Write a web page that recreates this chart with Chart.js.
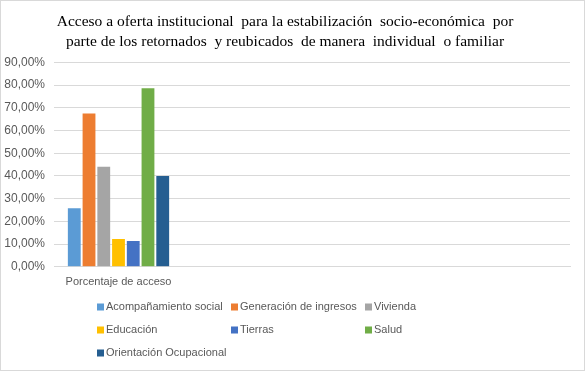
<!DOCTYPE html>
<html>
<head>
<meta charset="utf-8">
<script src="https://cdn.jsdelivr.net/npm/chart.js@4/dist/chart.umd.min.js"></script>
<style>
html,body{margin:0;padding:0;background:#fff;}
#wrap{width:585px;height:371px;position:relative;}
</style>
</head>
<body>
<div id="wrap"><canvas id="c"></canvas></div>
<script>
const categories = ["Porcentaje de acceso", "", "", ""];
const seriesNames = ["Acompañamiento social", "Generación de ingresos", "Vivienda", "Educación", "Tierras", "Salud", "Orientación Ocupacional"];
const seriesValues = [25.8, 67.5, 44.0, 12.2, 11.3, 78.6, 40.0];
const seriesColors = ["#5B9BD5", "#ED7D31", "#A5A5A5", "#FFC000", "#4472C4", "#70AD47", "#255E91"];
const titleLines = ["Acceso a oferta institucional  para la estabilización  socio-económica  por", "parte de los retornados  y reubicados  de manera  individual  o familiar"];
const yTicks = {min: 0, max: 90, step: 10};

const datasets = seriesNames.map((n, i) => ({
  label: n,
  data: categories.map((c, j) => j === 0 ? seriesValues[i] : null),
  backgroundColor: seriesColors[i],
  categoryPercentage: 0.8,
  barPercentage: 0.87
}));

const gridLegend = {
  id: 'gridLegend',
  beforeDraw(chart) {
    const ctx = chart.ctx;
    ctx.save();
    ctx.fillStyle = '#fff';
    ctx.fillRect(0, 0, chart.width, chart.height);
    ctx.strokeStyle = '#d9d9d9';
    ctx.lineWidth = 1;
    ctx.strokeRect(0.5, 0.5, chart.width - 1, chart.height - 1);
    ctx.restore();
  },
  afterDraw(chart) {
    const ctx = chart.ctx;
    ctx.save();
    ctx.font = '11px "Liberation Sans", Arial, sans-serif';
    ctx.textBaseline = 'middle';
    const x0 = 97, colW = 134, y0 = 307, rowH = 23, box = 7;
    chart.data.datasets.forEach((ds, i) => {
      const col = i % 3, row = Math.floor(i / 3);
      const x = x0 + col * colW, y = y0 + row * rowH;
      ctx.fillStyle = ds.backgroundColor;
      ctx.fillRect(x, y - box / 2, box, box);
      ctx.fillStyle = '#595959';
      ctx.fillText(ds.label, x + box + 2, y);
    });
    ctx.restore();
  }
};

new Chart(document.getElementById('c'), {
  type: 'bar',
  data: {labels: categories, datasets},
  options: {
    responsive: true,
    maintainAspectRatio: false,
    animation: false,
    layout: {padding: {left: 0, right: 15, top: 0, bottom: 73}},
    plugins: {
      legend: {display: false},
      tooltip: {enabled: false},
      title: {
        display: true,
        text: titleLines,
        color: '#000',
        font: {family: '"Liberation Serif", "Times New Roman", serif', size: 15.5, weight: 'normal', lineHeight: 1.3},
        padding: {top: 12, bottom: 10}
      }
    },
    scales: {
      x: {
        grid: {display: false, drawTicks: false},
        border: {color: '#d9d9d9'},
        ticks: {color: '#595959', font: {family: '"Liberation Sans", Arial, sans-serif', size: 11}, padding: 9, maxRotation: 0}
      },
      y: {
        min: yTicks.min, max: yTicks.max,
        afterFit(scale) { scale.width = 54; },
        grid: {color: '#d9d9d9', drawTicks: false},
        border: {display: false},
        ticks: {
          stepSize: yTicks.step,
          color: '#595959',
          font: {family: '"Liberation Sans", Arial, sans-serif', size: 12},
          padding: 9,
          callback: v => v.toFixed(2).replace('.', ',') + '%'
        }
      }
    }
  },
  plugins: [gridLegend]
});
</script>
</body>
</html>
